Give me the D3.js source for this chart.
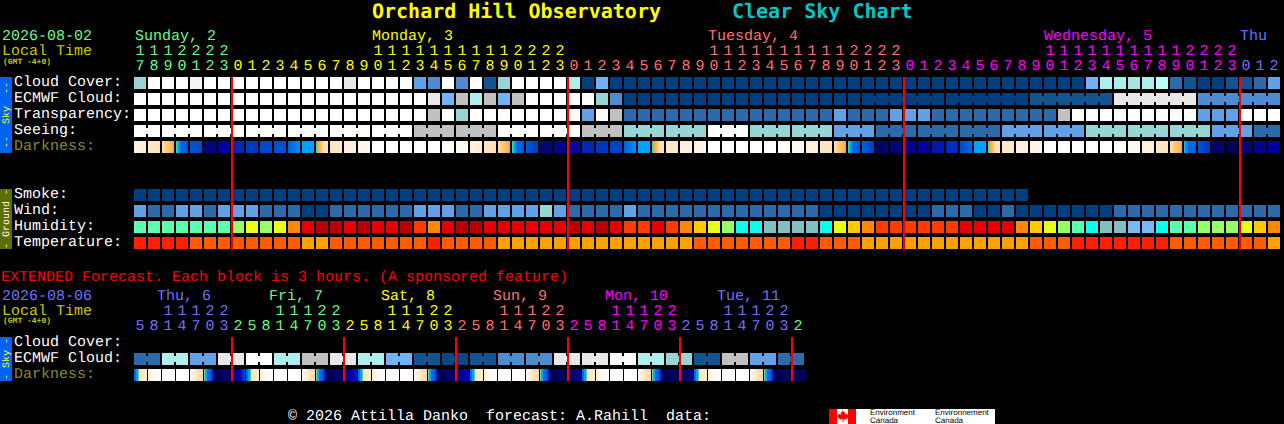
<!DOCTYPE html>
<html><head><meta charset="utf-8">
<script src="https://cdn.jsdelivr.net/npm/d3@7/dist/d3.min.js"></script>
<style>
html,body{margin:0;padding:0;background:#000;overflow:hidden}
svg{display:block}
text{font-family:"Liberation Mono",monospace;font-size:15px;white-space:pre;text-rendering:geometricPrecision}
</style></head><body>
<svg id="c" width="1284" height="424"></svg>
<script>
// ---------- data ----------
const cloud=[60,100,100,100,95,100,100,
100,100,100,100,100,100,100,100,90,100,100,100,100,40,30,100,30,100,10,60,100,100,100,100,
70,0,50,0,0,0,0,0,0,0,0,0,0,0,0,0,0,0,0,0,0,0,0,0,
0,0,0,0,0,0,0,0,0,0,0,0,0,50,70,70,65,70,75,20,10,0,0,10,
10,20,40];
const ecmwf=[100,100,100,100,100,100,100,
100,100,100,100,100,100,100,100,100,100,100,100,100,100,90,50,80,70,80,50,80,100,100,100,
100,100,60,30,0,0,0,0,0,0,0,0,0,0,0,0,0,0,0,0,0,0,0,0,
0,0,0,0,0,0,0,0,0,10,10,10,10,10,10,90,90,90,90,90,90,30,30,30,
30,30,30];
const transparency=[100,100,100,100,100,100,100,
100,100,100,100,100,100,100,100,100,100,100,100,100,100,80,100,60,100,100,100,100,100,100,100,
100,40,100,80,20,20,20,20,20,20,20,20,20,20,20,20,20,20,20,40,20,20,20,40,
40,40,20,20,20,20,20,20,20,20,20,80,100,100,100,100,100,100,100,100,100,40,40,40,
100,100,100];
const seeing=[100,100,100,100,100,100,100,
100,100,100,100,100,100,100,100,100,100,100,100,100,80,80,80,80,80,80,100,100,100,100,100,
100,80,80,80,60,60,60,60,60,60,100,100,100,60,60,60,60,60,60,40,40,40,20,20,
20,20,20,20,20,20,20,40,40,40,40,40,40,60,60,60,60,60,60,60,60,60,40,40,
40,20,20];
const darkness=[[9.1,8.9],[8.6,8.3],[8,7.1],[6.5,6,5,5,4.6,4.4],[4.4,4],[1,1.3],[2],
[3],[3.5],[4],[4.3],[4.8,5.7],[6],[6.6,7,7.5,8,8.2,8.4],[8.5,8.7],[8.9,9.1],[9.3,9.5],[10],[10],[10],[10],[10],[10],[9.5],[9,8.8],[8.5,8.2],[8,7.1],[6.5,6,5,5,4.6,4.4],[4.4,3.6],[0.8,1.2],[1.3,1.8],
[2.2],[3],[3.4],[3.8],[4.8,5.7],[6],[6.6,7,7.5,8,8.2,8.4],[8.6],[9],[9.3],[10],[10],[10],[10],[10],[10],[9.5],[9],[8.5],[8,7.1],[6.5,6,5,5,4.6,4.4],[4.8,3.6],[0.4,0.8],[0.8,1],
[1.6],[2],[2.6],[3.2],[4,5],[6],[6.6,7,7.5,8,8.2,8.4],[8.6],[9],[9.3],[10],[10],[10],[10],[10],[10],[9.5],[9],[8.5],[8,7.1],[6.2,5,5,4.8],[4.4,3.4],[0.4,0.8],[0.2],
[0.8],[1.5],[2]];
const smoke=[0,0,0,0,0,0,0,
0,0,0,0,0,0,0,0,0,0,0,0,0,0,0,0,0,0,0,0,0,0,0,0,
0,0,0,0,0,0,0,0,0,0,0,0,0,0,0,0,0,0,0,0,0,0,0,0,
0,0,0,0,0,0,0,0,0];
const wind=[40,20,20,40,40,20,40,
40,40,20,20,20,0,0,20,20,20,20,20,20,40,40,40,20,20,40,40,40,40,60,40,
20,20,20,20,40,20,20,20,20,20,20,20,20,20,20,20,20,20,0,0,0,0,0,0,
0,0,20,20,20,0,0,20,0,0,0,0,0,0,0,20,20,20,20,20,20,20,20,20,
20,20,20];
const humidity=[40,40,40,40,40,40,40,
45,50,45,50,60,70,75,75,70,75,70,70,75,65,60,70,75,75,70,70,70,70,70,70,
75,70,75,70,65,65,70,65,60,55,50,45,35,35,30,30,30,30,35,50,55,60,65,65,
65,65,65,65,70,70,70,70,60,55,50,45,40,35,30,30,25,25,35,40,40,45,45,45,
50,55,60];
const temperature=[30,30,30,30,27,27,27,
27,27,27,27,27,24,24,27,27,27,27,27,27,27,30,27,27,27,27,24,24,24,24,24,
24,24,24,24,24,24,24,24,24,27,27,27,27,27,27,27,30,30,27,27,27,24,24,24,
24,24,24,24,24,24,24,24,24,27,27,27,30,30,30,30,30,30,30,27,27,27,27,27,
27,27,24];
const extEcmwf=[20,20,70,70,40,40,90,90,100,100,70,70,80,80,90,90,70,70,50,50,10,10,5,5,
10,10,30,30,30,30,90,90,90,90,100,100,70,70,60,60,10,10,80,80,40,40,20,20];
const extDarkness=[
[5,5,6,6,6.6,8,8,8.4,8.6,8.8,8.8,8.8],[9,10],[10],[10],[9.6,8.9,8.3,8],[6.6,6.2,6,5,5,5,4.6,4.2,3,0.6,0.4,0.3],[0.2],[1,1.6,2,2.2,3.6],
[5,5,6,6,6.6,8,8,8.4,8.6,8.8,8.8,8.8],[9,10],[10],[10],[9.6,8.9,8.3,8],[6.6,6.2,6,5,5,5,4.6,4.2,3,0.6,0.4,0.3],[0.2],[1,1.6,2,2.2,2.6],
[5,5,6,6,6.6,8,8,8.4,8.6,8.8,8.8,8.8],[9,10],[10],[10],[9.6,8.9,8.3,8],[6.6,6.2,6,5,5,5,4.6,4.2,3,0.6,0.4,0.3],[0.2],[0.8,1.4,2,2],
[5,5,6,6,6.6,8,8,8.4,8.6,8.8,8.8,8.8],[9,10],[10],[10],[9.6,8.9,8.3,8],[6.6,6.2,6,5,5,5,4.6,4.2,3,0.6,0.4,0.3],[0.2],[0.4,0.8,1.4],
[5,5,6,6,6.6,8,8,8.4,8.6,8.8,8.8,8.8],[9,10],[10],[10],[9.6,8.9,8.3,8],[6.6,6.2,6,5,5,5,4.6,4.2,3,0.6,0.4,0.3],[0.2],[0.3,0.6,1],
[5,5,6,6,6.6,8,8,8.4,8.6,8.8,8.8,8.8],[9,10],[10],[10],[9.6,8.9,8.3,8],[6.6,6.2,6,5,5,5,4.6,4.2,3,0.6,0.4,0.3],[0.2],[0.2,0.4]];
const seeingSpans=[2,3,3,3,3,3,3,3,3,3,3,3,3,3,3,3,3,3,3,3,3,3,3,3,3,3,3,2];
const ecmwfSpans=[1,1,1,1,1,1,1,1,1,1,1,1,1,1,1,1,1,1,1,1,1,1,1,1,1,1,1,1,1,1,1,1,1,1,1,1,1,1,1,1,1,1,1,1,1,1,1,1,1,1,1,1,6,6,6,6,6];
const extEcmwfSpans=[2,2,2,2,2,2,2,2,2,2,2,2,2,2,2,2,2,2,2,2,2,2,2,2];
const topDays=["Sunday, 2","Monday, 3","Tuesday, 4","Wednesday, 5","Thu"];
const topDayCols=[0,17,41,65,79];
const topDayStarts=[0,7,31,55,79];
const extDays=["Thu, 6","Fri, 7","Sat, 8","Sun, 9","Mon, 10","Tue, 11"];
const extDayStarts=[0,7,15,23,31,39,47];
const topMidnights=[7,31,55,79];
const extMidnights=[7,15,23,31,39,47];
const topStartHour=17, extStartHour=5, extStep=3;

// ---------- styles ----------
const clearLevels=[0,5,10,20,30,40,50,60,65,70,75,80,90,95,100];
const clearColors=['#003f7f','#0a4585','#135390','#2c6aaa','#4f8ccf','#62a1e5','#74b2f5','#97d5d5','#a4e4e2','#aeeeec','#b8fcfc','#c0c0c0','#e8e8e8','#f4f4f4','#ffffff'];
const clear=d3.scaleOrdinal(clearLevels,clearColors);
const humid=d3.scaleOrdinal([25,30,35,40,45,50,55,60,65,70,75],['#7ab8f5','#84bfbf','#0cffe8','#5affb0','#96ff66','#e8ff14','#ffc800','#ff8800','#ff3c00','#e60000','#b80000']);
const temp=d3.scaleOrdinal([24,27,30],['#ffa000','#ff5c00','#ff2000']);
const dark=d3.scaleLinear([0,1,2,3,4,5,6,6.5,7,8,9,10],['#000050','#000878','#0000a0','#0028b8','#0048cc','#0068e4','#00a0ff','#30d8b0','#ffa830','#ffdca8','#fff0dc','#ffffff']);
const GREEN='#66ff80',YEL='#ffff00',SAL='#ff7070',MAG='#ff00ff',PER='#7070ff',DIM='#c8c800',OLIVE='#8a8a28';
const topColors=[GREEN,YEL,SAL,MAG,PER];
const extColors=[PER,GREEN,YEL,SAL,MAG,PER,GREEN];

// ---------- layout ----------
const svg=d3.select('#c');
const x=d3.scaleBand(d3.range(82),[134,134+82*14-2]).paddingInner(2/14);
const xe=d3.scaleBand(d3.range(48),[134,134+48*14-2]).paddingInner(2/14);
const skyY=d3.scaleBand(['Cloud Cover:','ECMWF Cloud:','Transparency:','Seeing:','Darkness:'],[77,153]).paddingInner(.25);
const groundY=d3.scaleBand(['Smoke:','Wind:','Humidity:','Temperature:'],[189,249]).paddingInner(.25);
const extY=d3.scaleBand(['Cloud Cover:','ECMWF Cloud:','Darkness:'],[337,381]).paddingInner(.25);

function txt(sel,s,px,py,fill,opt={}){
  return sel.append('text').attr('x',px).attr('y',py).attr('fill',fill).text(s)
    .style('font-size',opt.size||null).style('font-weight',opt.weight||null)
    .style('font-family',opt.family||null).attr('text-anchor',opt.anchor||'start');
}
function spanBreaks(spans){
  const m=[];spans.forEach((n,k)=>{for(let i=0;i<n;i++)m.push(k)});return m;
}
function row(xs,y,name,vals,color,spans){
  const g=svg.append('g').attr('shape-rendering','crispEdges');
  g.selectAll('rect.c').data(vals).join('rect').attr('class','c')
    .attr('x',(d,i)=>xs(i)).attr('y',y(name)).attr('width',xs.bandwidth()).attr('height',y.bandwidth())
    .attr('fill',d=>color(d));
  if(spans){
    const m=spanBreaks(spans),gapH=y.bandwidth()/2;
    const joins=vals.map((d,i)=>i).filter(i=>i+1<vals.length&&m[i]!==undefined&&m[i]===m[i+1]);
    g.selectAll('rect.j').data(joins).join('rect').attr('class','j')
      .attr('x',i=>xs(i)+xs.bandwidth()).attr('y',y(name)+y.bandwidth()/4)
      .attr('width',xs.step()-xs.bandwidth()).attr('height',gapH)
      .attr('fill',i=>color(vals[i]));
  }
}
function gradRow(xs,y,name,vals){
  const g=svg.append('g').attr('shape-rendering','crispEdges');
  vals.forEach((stops,i)=>{
    const w=xs.bandwidth();
    const s=stops.length>1?d3.scaleLinear(d3.range(stops.length).map(k=>k*(w-1)/(stops.length-1)),stops):()=>stops[0];
    g.selectAll(null).data(d3.range(w)).join('rect')
      .attr('x',k=>xs(i)+k).attr('y',y(name)).attr('width',1).attr('height',y.bandwidth())
      .attr('fill',k=>dark(s(k)));
  });
}
function hours(xs,n,start,step,dayStarts,colors,yTens,yOnes){
  const g=svg.append('g').attr('text-anchor','middle');
  const data=d3.range(n).map(i=>{
    const h=(start+i*step)%24;
    const c=colors[d3.bisectRight(dayStarts,i)-1];
    return {i,h,c};
  });
  g.selectAll('text.o').data(data).join('text').attr('class','o')
    .attr('x',d=>xs(d.i)+xs.bandwidth()/2).attr('y',yOnes).attr('fill',d=>d.c).text(d=>d.h%10);
  g.selectAll('text.t').data(data.filter(d=>d.h>=10)).join('text').attr('class','t')
    .attr('x',d=>xs(d.i)+xs.bandwidth()/2).attr('y',yTens).attr('fill',d=>d.c).text(d=>Math.floor(d.h/10));
}
function sideBar(y0,y1,bg,fg,label){
  svg.append('rect').attr('x',0).attr('y',y0).attr('width',12).attr('height',y1-y0).attr('fill',bg);
  svg.append('text').attr('transform',`translate(9,${(y0+y1)/2}) rotate(-90)`).attr('text-anchor','middle')
    .attr('fill',fg).style('font-size','10px').text(label);
}
function redLines(xs,cols,y0,y1){
  svg.append('g').attr('shape-rendering','crispEdges').selectAll('rect').data(cols).join('rect')
    .attr('x',c=>xs(c)-1).attr('y',y0).attr('width',2).attr('height',y1-y0).attr('fill','#ff0000');
}

// ---------- title ----------
const T={size:'20px',weight:'bold',family:'"DejaVu Sans Mono",monospace'};
txt(svg,'Orchard Hill Observatory',372,18,'#ffff00',T);
txt(svg,'Clear Sky Chart',732,18,'#00c8c8',T);

// ---------- top header ----------
txt(svg,'2026-08-02',2,40,GREEN);
txt(svg,'Local Time',2,55,DIM);
txt(svg,'(GMT -4+0)',3,64,DIM,{size:'8px',weight:'bold'});
topDays.forEach((d,i)=>txt(svg,d,x(topDayCols[i])+(i?0:1),40,topColors[i]));
hours(x,82,topStartHour,1,topDayStarts,topColors,55,70);

// ---------- sky / ground ----------
sideBar(77,153,'#0064f0','#ffff00','--  Sky  --');
sideBar(189,249,'#5c6e00','#ffffff','- Ground -');
skyY.domain().forEach(n=>txt(svg,n,14,skyY(n)+9,n==='Darkness:'?OLIVE:'#fff'));
groundY.domain().forEach(n=>txt(svg,n,14,groundY(n)+9,'#fff'));
row(x,skyY,'Cloud Cover:',cloud,clear);
row(x,skyY,'ECMWF Cloud:',ecmwf,clear,ecmwfSpans);
row(x,skyY,'Transparency:',transparency,clear);
row(x,skyY,'Seeing:',seeing,clear,seeingSpans);
gradRow(x,skyY,'Darkness:',darkness);
row(x,groundY,'Smoke:',smoke,clear);
row(x,groundY,'Wind:',wind,clear);
row(x,groundY,'Humidity:',humidity,humid);
row(x,groundY,'Temperature:',temperature,temp);
redLines(x,topMidnights,77,250);

// ---------- extended ----------
txt(svg,'EXTENDED Forecast. Each block is 3 hours. (A sponsored feature)',1,281,'#ff0000');
txt(svg,'2026-08-06',2,300,PER);
txt(svg,'Local Time',2,315,DIM);
txt(svg,'(GMT -4+0)',3,323,DIM,{size:'8px',weight:'bold'});
extDays.forEach((d,i)=>txt(svg,d,xe(2+8*i)-5,300,extColors[i]));
hours(xe,48,extStartHour,extStep,extDayStarts,extColors,315,330);
sideBar(337,381,'#0064f0','#ffff00','- Sky -');
extY.domain().forEach(n=>txt(svg,n,14,extY(n)+9,n==='Darkness:'?OLIVE:'#fff'));
row(xe,extY,'ECMWF Cloud:',extEcmwf,clear,extEcmwfSpans);
gradRow(xe,extY,'Darkness:',extDarkness);
redLines(xe,extMidnights,337,381);

// ---------- footer ----------
txt(svg,'© 2026 Attilla Danko  forecast: A.Rahill  data:',288,420,'#fff');
const logo=svg.append('g').attr('shape-rendering','crispEdges');
logo.append('rect').attr('x',829).attr('y',409).attr('width',166).attr('height',15).attr('fill','#fff');
logo.append('rect').attr('x',829).attr('y',409).attr('width',8).attr('height',15).attr('fill','#f00');
logo.append('rect').attr('x',848).attr('y',409).attr('width',8).attr('height',15).attr('fill','#f00');
svg.append('path').attr('d','M842.5 410l1.5 2.5 1.5-.8-.5 3 2-1 1 1.5 1-.2-.7 2.5-2.5 2-2.3-.2v2.7h-1v-2.7l-2.3.2-2.5-2-.7-2.5 1 .2 1-1.5 2 1-.5-3 1.5.8z').attr('fill','#f00');
const L={size:'8px',family:'"Liberation Sans",sans-serif'};
txt(svg,'Environment',870,415,'#000',L);txt(svg,'Canada',870,423,'#000',L);
txt(svg,'Environnement',935,415,'#000',L);txt(svg,'Canada',935,423,'#000',L);
</script>
</body></html>
